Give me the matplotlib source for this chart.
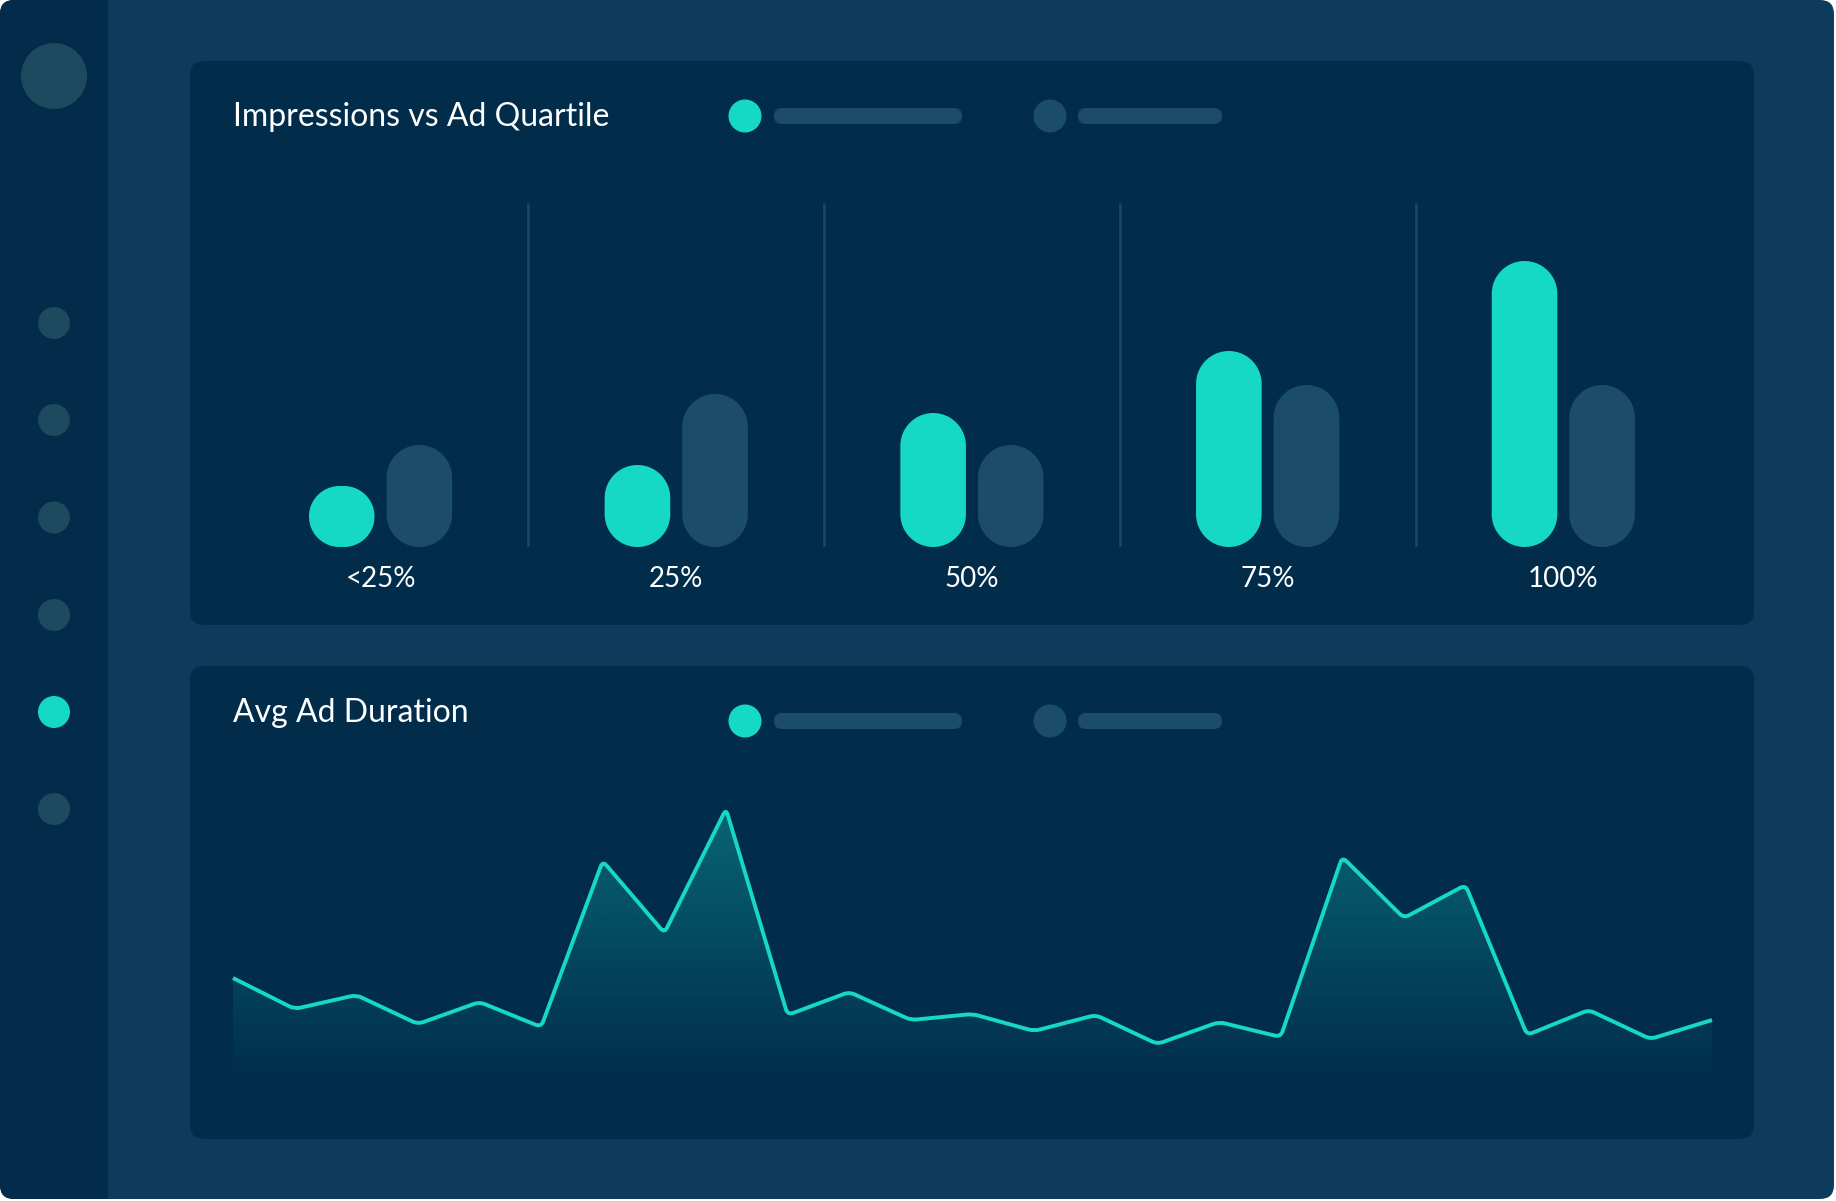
import numpy as np
import matplotlib
matplotlib.use("Agg")
import matplotlib.pyplot as plt
from matplotlib.patches import FancyBboxPatch, Circle, Rectangle, Polygon, PathPatch
from matplotlib.path import Path

plt.rcParams["font.family"] = ["Lato", "DejaVu Sans"]

# Veriler
quartiles = ["<25%", "25%", "50%", "75%", "100%"]
impressions_a = [61, 82, 134, 196, 286]
impressions_b = [102, 153, 102, 162, 162]

avg_duration = [105, 74, 88, 59, 81, 56, 222, 150, 274, 68, 91, 63, 69,
                 52, 68, 39, 61, 46, 226, 165, 198, 48, 73, 44, 63]

# Renkler
TEAL = "#15d9c3"
FRAME = "#0e3a5c"
SIDEBAR = "#022c4a"
PANEL = "#012d4b"
MUTED = "#1b4d6b"
DOT = "#1d4a5e"
SEP = "#174566"

W, H = 1836, 1201
fig = plt.figure(figsize=(W / 100, H / 100), dpi=100)
fig.patch.set_facecolor("white")

# Arka plan ekseni (piksel koordinatlari)
bg = fig.add_axes([0, 0, 1, 1])
bg.set_xlim(0, W)
bg.set_ylim(H, 0)
bg.axis("off")


def pill(ax, x0, y0, w, h, color, r=None):
    if r is None:
        r = min(w, h) / 2
    p = FancyBboxPatch((x0, y0), w, h, boxstyle=f"round,pad=0,rounding_size={r}",
                       fc=color, ec="none")
    ax.add_patch(p)
    return p


def stadium(w, h, n=40):
    # piksel cinsinden, alt orta noktaya gore stadyum seklinin koseleri
    r = min(w, h) / 2
    half = w / 2 - r
    t = np.linspace(0, np.pi, n)
    top = np.column_stack([np.where(t <= np.pi / 2, half, -half) + r * np.cos(t),
                           h - r + r * np.sin(t)])
    t2 = np.linspace(np.pi, 2 * np.pi, n)
    bot = np.column_stack([np.where(t2 <= 1.5 * np.pi, -half, half) + r * np.cos(t2),
                           r + r * np.sin(t2)])
    return np.vstack([top, bot])


frame = pill(bg, 0, 0, W - 2, H - 2, FRAME, r=14)
side = Rectangle((0, 0), 108, H, fc=SIDEBAR, ec="none")
bg.add_patch(side)
side.set_clip_path(frame)

pill(bg, 190, 61, 1564, 564, PANEL, r=14)
pill(bg, 190, 666, 1564, 473, PANEL, r=14)

# Kenar cubugu noktalari
bg.add_patch(Circle((54, 76), 33, fc=DOT, ec="none"))
for i, yy in enumerate([323, 420, 517.5, 615, 712, 809]):
    bg.add_patch(Circle((54, yy), 16, fc=TEAL if i == 4 else DOT, ec="none"))

# Basliklar ve lejant
for ty, title in [(117, "Impressions vs Ad Quartile"), (713, "Avg Ad Duration")]:
    bg.text(233, ty, title, color="white", fontsize=23, va="center", ha="left")
for ly in [116, 721]:
    bg.add_patch(Circle((745, ly), 16.5, fc=TEAL, ec="none"))
    pill(bg, 774, ly - 8, 188, 16, MUTED)
    bg.add_patch(Circle((1050, ly), 16.5, fc=MUTED, ec="none"))
    pill(bg, 1078, ly - 8, 144, 16, MUTED)

# Cubuk grafik
GROUP_PX = 295.7
bar_bottom = 547
ymax = 347
axb = fig.add_axes([232.7 / W, (H - bar_bottom) / H, 5 * GROUP_PX / W, ymax / H])
axb.set_xlim(-0.5, 4.5)
axb.set_ylim(0, ymax)
axb.patch.set_alpha(0)
for s in axb.spines.values():
    s.set_visible(False)
axb.set_yticks([])
axb.set_xticks(range(len(quartiles)), quartiles)
axb.tick_params(axis="x", length=0, pad=13.5, labelsize=20, labelcolor="white")

bw_px = 65.6
off_px = 38.8
off = off_px / GROUP_PX
for i in range(len(quartiles)):
    for vals, sign, col in [(impressions_a, -1, TEAL), (impressions_b, 1, MUTED)]:
        shape = stadium(bw_px, vals[i])
        xy = np.column_stack([i + sign * off + shape[:, 0] / GROUP_PX, shape[:, 1]])
        axb.add_patch(Polygon(xy, closed=True, fc=col, ec="none"))
axb.vlines([0.5, 1.5, 2.5, 3.5], 0, 344, color=SEP, lw=2.2)

# Cizgi grafik
line_bottom = 1083
lymax = 320
n = len(avg_duration)
axl = fig.add_axes([233 / W, (H - line_bottom) / H, 1479 / W, lymax / H])
x = np.arange(n)
axl.set_xlim(0, n - 1)
axl.set_ylim(0, lymax)
axl.axis("off")

# koseleri hafifce yuvarlatilmis cizgi yolu (piksel uzayinda hesaplanir)
sx = 1479 / (n - 1)
P = np.column_stack([x * sx, np.array(avg_duration, float)])
verts = [P[0]]
codes = [Path.MOVETO]
for k in range(1, n - 1):
    a, p, b = P[k - 1], P[k], P[k + 1]
    ua = (a - p) / np.linalg.norm(a - p)
    ub = (b - p) / np.linalg.norm(b - p)
    d = 6.0
    verts += [p + d * ua, p, p + d * ub]
    codes += [Path.LINETO, Path.CURVE3, Path.CURVE3]
verts.append(P[-1])
codes.append(Path.LINETO)
verts = np.array(verts)
verts[:, 0] /= sx
line_path = Path(verts, codes)

clip_verts = np.vstack([verts, [[n - 1, 0], [0, 0], [0, 0]]])
clip_codes = codes + [Path.LINETO, Path.LINETO, Path.CLOSEPOLY]
clip_path = Path(clip_verts, clip_codes)

grad = np.zeros((256, 1, 4))
grad[:, 0, :3] = matplotlib.colors.to_rgb(TEAL)
grad[:, 0, 3] = np.linspace(0.0, 0.33, 256)
im = axl.imshow(grad, extent=[0, n - 1, 0, max(avg_duration)],
                origin="lower", aspect="auto", zorder=1)
im.set_clip_path(clip_path, transform=axl.transData)
axl.set_xlim(0, n - 1)
axl.set_ylim(0, lymax)
axl.add_patch(PathPatch(line_path, fill=False, ec=TEAL, lw=2.8, joinstyle="round",
                        capstyle="butt", zorder=2, clip_on=False))

fig.savefig("out.png", dpi=100, facecolor=fig.get_facecolor())
